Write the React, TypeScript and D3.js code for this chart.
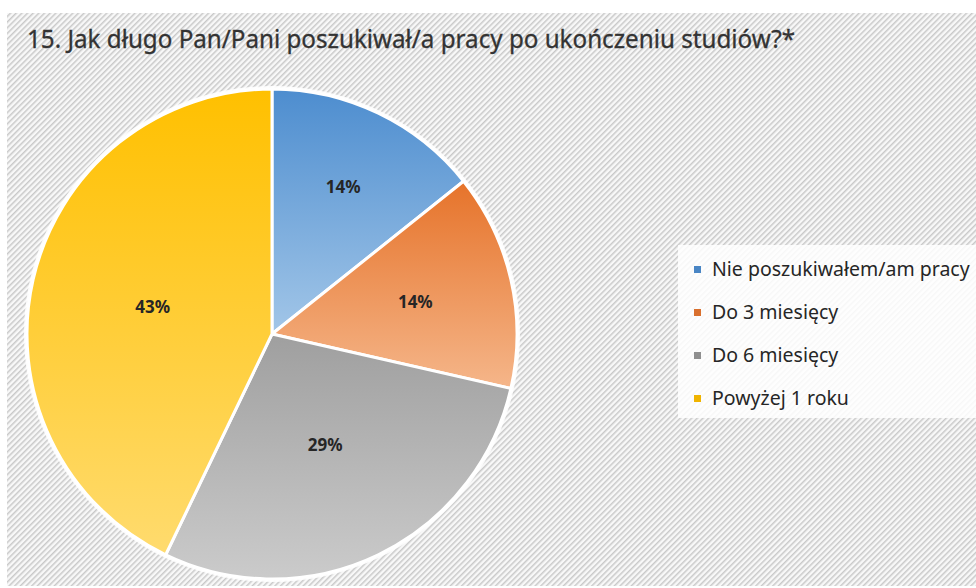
import React from "react";
import * as d3 from "d3";

const title = "15. Jak długo Pan/Pani poszukiwał/a pracy po ukończeniu studiów?*";
const categories = ["Nie poszukiwałem/am pracy", "Do 3 miesięcy", "Do 6 miesięcy", "Powyżej 1 roku"];
const values = [1, 1, 2, 3];
const labels = ["14%", "14%", "29%", "43%"];
const topColors = ["#4d8dcf", "#e6732a", "#9f9f9f", "#ffc000"];
const bottomColors = ["#a2c6e8", "#f5b68a", "#cbcbcb", "#ffdb6e"];
const legendColors = ["#4a86c5", "#d9702e", "#8f8f8f", "#f0b400"];
const labelRadiusFrac = [0.67, 0.6, 0.5, 0.5];

const W = 976, H = 588;
const cx = 272, cy = 334, R = 245;

export default function App() {
  const pie = d3.pie<number>().sort(null).value((d) => d);
  const arcs = pie(values);
  const arc = d3.arc<d3.PieArcDatum<number>>().innerRadius(0).outerRadius(R);
  const legendY = d3.scaleLinear().domain([0, 1]).range([276, 319]);
  const font = "'Noto Sans', 'Open Sans', sans-serif";
  return (
    <svg width={W} height={H} style={{ position: "absolute", left: 0, top: 0, background: "#fff" }}>
      <defs>
        <pattern id="hatch" width="4" height="4" patternUnits="userSpaceOnUse" patternTransform="rotate(45)">
          <rect width="4" height="4" fill="#f8f8f8" />
          <rect x="0" y="0" width="1.5" height="4" fill="#c9c9c9" />
        </pattern>
        {arcs.map((a, i) => (
          <linearGradient key={i} id={`g${i}`} x1="0" y1="0" x2="0" y2="1">
            <stop offset="0" stopColor={topColors[i]} />
            <stop offset="1" stopColor={bottomColors[i]} />
          </linearGradient>
        ))}
      </defs>
      <rect x={7} y={13} width={W - 7} height={H - 13 - 2} fill="url(#hatch)" />
      <text x={27} y={48} fontFamily={font} fontSize={25} fill="#333333" stroke="#333333" strokeWidth={0.3} textLength={768} lengthAdjust="spacingAndGlyphs">
        {title}
      </text>
      <g transform={`translate(${cx},${cy})`}>
        <circle r={R + 3} fill="#ffffff" opacity={0.9} />
        {arcs.map((a, i) => (
          <path key={i} d={arc(a) || ""} fill={`url(#g${i})`} stroke="#ffffff" strokeWidth={3} strokeLinejoin="round" />
        ))}
        {arcs.map((a, i) => {
          const r = R * labelRadiusFrac[i];
          const [x, y] = d3.arc<d3.PieArcDatum<number>>().innerRadius(r).outerRadius(r).centroid(a);
          return (
            <text key={i} x={x} y={y} textAnchor="middle" dominantBaseline="central" fontFamily={font} fontWeight="bold" fontSize={17} fill="#262626">
              {labels[i]}
            </text>
          );
        })}
      </g>
      <rect x={678} y={245} width={W - 678} height={173} fill="#ffffff" opacity={0.85} />
      {categories.map((c, i) => (
        <g key={i}>
          <rect x={694} y={legendY(i) - 10} width={7} height={7} fill={legendColors[i]} />
          <text x={712} y={legendY(i)} fontFamily={font} fontSize={19.5} fill="#262626">
            {c}
          </text>
        </g>
      ))}
    </svg>
  );
}
